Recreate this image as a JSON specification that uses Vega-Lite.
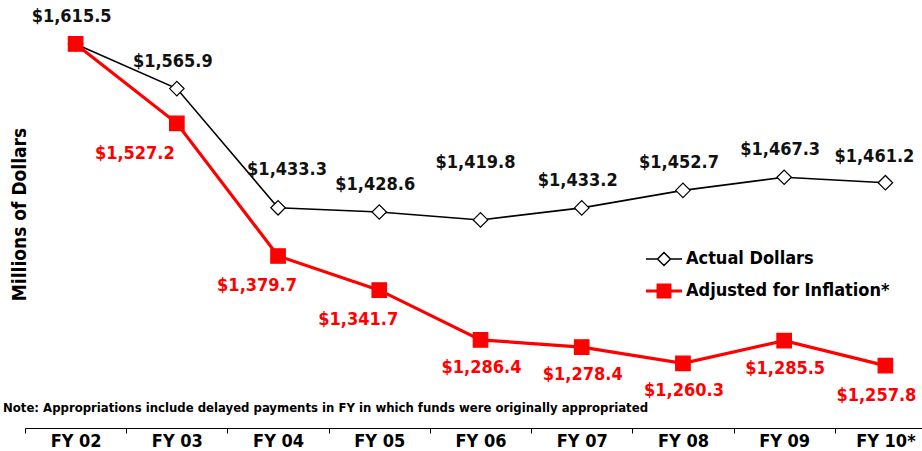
{
  "$schema": "https://vega.github.io/schema/vega-lite/v6.json",
  "autosize": "none",
  "width": 897,
  "height": 428,
  "padding": {"left": 25, "top": 0, "right": 0, "bottom": 23},
  "background": "white",
  "config": {
    "view": {"stroke": null},
    "font": "DejaVu Sans Condensed",
    "text": {"font": "DejaVu Sans Condensed"}
  },
  "data": {
    "values": [
      {"fy": "FY 02", "series": "Actual Dollars", "value": 1615.5, "label": "$1,615.5"},
      {"fy": "FY 03", "series": "Actual Dollars", "value": 1565.9, "label": "$1,565.9"},
      {"fy": "FY 04", "series": "Actual Dollars", "value": 1433.3, "label": "$1,433.3"},
      {"fy": "FY 05", "series": "Actual Dollars", "value": 1428.6, "label": "$1,428.6"},
      {"fy": "FY 06", "series": "Actual Dollars", "value": 1419.8, "label": "$1,419.8"},
      {"fy": "FY 07", "series": "Actual Dollars", "value": 1433.2, "label": "$1,433.2"},
      {"fy": "FY 08", "series": "Actual Dollars", "value": 1452.7, "label": "$1,452.7"},
      {"fy": "FY 09", "series": "Actual Dollars", "value": 1467.3, "label": "$1,467.3"},
      {"fy": "FY 10*", "series": "Actual Dollars", "value": 1461.2, "label": "$1,461.2"},
      {"fy": "FY 02", "series": "Adjusted for Inflation*", "value": 1615.5, "label": ""},
      {"fy": "FY 03", "series": "Adjusted for Inflation*", "value": 1527.2, "label": "$1,527.2"},
      {"fy": "FY 04", "series": "Adjusted for Inflation*", "value": 1379.7, "label": "$1,379.7"},
      {"fy": "FY 05", "series": "Adjusted for Inflation*", "value": 1341.7, "label": "$1,341.7"},
      {"fy": "FY 06", "series": "Adjusted for Inflation*", "value": 1286.4, "label": "$1,286.4"},
      {"fy": "FY 07", "series": "Adjusted for Inflation*", "value": 1278.4, "label": "$1,278.4"},
      {"fy": "FY 08", "series": "Adjusted for Inflation*", "value": 1260.3, "label": "$1,260.3"},
      {"fy": "FY 09", "series": "Adjusted for Inflation*", "value": 1285.5, "label": "$1,285.5"},
      {"fy": "FY 10*", "series": "Adjusted for Inflation*", "value": 1257.8, "label": "$1,257.8"}
    ]
  },
  "encoding": {
    "x": {
      "field": "fy",
      "type": "nominal",
      "sort": null,
      "scale": {"range": [0, 911], "paddingInner": 0, "paddingOuter": 0},
      "axis": {
        "title": null,
        "labelAngle": 0,
        "labelFont": "DejaVu Sans Condensed",
        "labelFontSize": 18,
        "labelFontWeight": "bold",
        "labelColor": "black",
        "labelBaseline": "alphabetic",
        "labelPadding": 13,
        "tickBand": "extent",
        "tickSize": 5,
        "tickColor": "black",
        "domainColor": "black",
        "domainWidth": 1,
        "grid": false
      }
    },
    "y": {
      "field": "value",
      "type": "quantitative",
      "scale": {"domain": [1188.4, 1664.4], "nice": false, "zero": false},
      "axis": {
        "title": "Millions of Dollars",
        "titleFont": "DejaVu Sans Condensed",
        "titleFontSize": 19,
        "titleFontWeight": "bold",
        "titleColor": "black",
        "titleBaseline": "alphabetic",
        "titlePadding": 0,
        "domain": false,
        "ticks": false,
        "labels": false,
        "grid": false
      }
    }
  },
  "layer": [
    {
      "mark": {"type": "line"},
      "encoding": {
        "color": {
          "field": "series", "type": "nominal",
          "scale": {"domain": ["Actual Dollars", "Adjusted for Inflation*"], "range": ["black", "#ff0000"]},
          "legend": {
            "title": null,
            "orient": "none",
            "legendX": 630,
            "legendY": 250,
            "padding": 0,
            "labelFont": "DejaVu Sans Condensed",
            "labelFontSize": 18,
            "labelFontWeight": "bold",
            "labelColor": "black",
            "labelLimit": 400,
            "labelOffset": 13,
            "symbolSize": 1296,
            "rowPadding": 10,
            "encode": {
              "symbols": {
                "update": {
                  "shape": {"signal": "datum.value === 'Actual Dollars' ? 'M-1,0L-0.36,0M-0.36,0L0,-0.36L0.36,0L0,0.36ZM0.36,0L1,0' : 'M-1,0L1,0M-0.33,-0.33L0.33,-0.33L0.33,0.33L-0.33,0.33Z'"},
                  "fill": {"signal": "datum.value === 'Actual Dollars' ? 'white' : '#ff0000'"},
                  "stroke": {"signal": "datum.value === 'Actual Dollars' ? 'black' : '#ff0000'"},
                  "strokeWidth": {"signal": "datum.value === 'Actual Dollars' ? 1.5 : 3"},
                  "opacity": {"value": 1}
                }
              }
            }
          }
        },
        "strokeWidth": {"condition": {"test": "datum.series === 'Actual Dollars'", "value": 1.6}, "value": 3.2}
      }
    },
    {
      "mark": {"type": "point", "filled": true, "size": 210, "strokeWidth": 1.2, "opacity": 1},
      "encoding": {
        "shape": {"condition": {"test": "datum.series === 'Actual Dollars'", "value": "diamond"}, "value": "square"},
        "fill": {"condition": {"test": "datum.series === 'Actual Dollars'", "value": "white"}, "value": "#ff0000"},
        "stroke": {"condition": {"test": "datum.series === 'Actual Dollars'", "value": "black"}, "value": "#ff0000"}
      }
    },
    {
      "transform": [{"filter": {"field": "fy", "oneOf": ["FY 02", "FY 03", "FY 05", "FY 07", "FY 08", "FY 09"]}}, {"filter": "datum.series === 'Actual Dollars'"}],
      "mark": {"type": "text", "dx": -4, "dy": -27, "fontSize": 18, "fontWeight": "bold", "color": "#111111", "font": "DejaVu Sans Condensed"},
      "encoding": {"text": {"field": "label"}}
    },
    {
      "transform": [{"filter": {"field": "fy", "oneOf": ["FY 04"]}}, {"filter": "datum.series === 'Actual Dollars'"}],
      "mark": {"type": "text", "dx": 9, "dy": -38, "fontSize": 18, "fontWeight": "bold", "color": "#111111", "font": "DejaVu Sans Condensed"},
      "encoding": {"text": {"field": "label"}}
    },
    {
      "transform": [{"filter": {"field": "fy", "oneOf": ["FY 06"]}}, {"filter": "datum.series === 'Actual Dollars'"}],
      "mark": {"type": "text", "dx": -5, "dy": -57, "fontSize": 18, "fontWeight": "bold", "color": "#111111", "font": "DejaVu Sans Condensed"},
      "encoding": {"text": {"field": "label"}}
    },
    {
      "transform": [{"filter": {"field": "fy", "oneOf": ["FY 10*"]}}, {"filter": "datum.series === 'Actual Dollars'"}],
      "mark": {"type": "text", "dx": -11, "dy": -26, "fontSize": 18, "fontWeight": "bold", "color": "#111111", "font": "DejaVu Sans Condensed"},
      "encoding": {"text": {"field": "label"}}
    },
    {
      "transform": [{"filter": {"field": "fy", "oneOf": ["FY 06", "FY 07", "FY 08", "FY 09"]}}, {"filter": "datum.series !== 'Actual Dollars'"}],
      "mark": {"type": "text", "dx": 1, "dy": 28, "fontSize": 18, "fontWeight": "bold", "color": "#ff0000", "font": "DejaVu Sans Condensed"},
      "encoding": {"text": {"field": "label"}}
    },
    {
      "transform": [{"filter": {"field": "fy", "oneOf": ["FY 03"]}}, {"filter": "datum.series !== 'Actual Dollars'"}],
      "mark": {"type": "text", "dx": -42, "dy": 31, "fontSize": 18, "fontWeight": "bold", "color": "#ff0000", "font": "DejaVu Sans Condensed"},
      "encoding": {"text": {"field": "label"}}
    },
    {
      "transform": [{"filter": {"field": "fy", "oneOf": ["FY 04", "FY 05"]}}, {"filter": "datum.series !== 'Actual Dollars'"}],
      "mark": {"type": "text", "dx": -21, "dy": 30, "fontSize": 18, "fontWeight": "bold", "color": "#ff0000", "font": "DejaVu Sans Condensed"},
      "encoding": {"text": {"field": "label"}}
    },
    {
      "transform": [{"filter": {"field": "fy", "oneOf": ["FY 10*"]}}, {"filter": "datum.series !== 'Actual Dollars'"}],
      "mark": {"type": "text", "dx": -9, "dy": 30, "fontSize": 18, "fontWeight": "bold", "color": "#ff0000", "font": "DejaVu Sans Condensed"},
      "encoding": {"text": {"field": "label"}}
    },
    {
      "data": {"values": [{"fy": "FY 02", "value": 1210.8, "note": "Note: Appropriations include delayed payments in FY in which funds were originally appropriated"}]},
      "mark": {"type": "text", "align": "left", "baseline": "middle", "dx": -22, "fontSize": 13, "fontWeight": "bold", "color": "black", "font": "DejaVu Sans Condensed"},
      "encoding": {
        "x": {"field": "fy", "type": "nominal", "bandPosition": 0},
        "y": {"field": "value", "type": "quantitative"},
        "text": {"field": "note"}
      }
    }
  ]
}
